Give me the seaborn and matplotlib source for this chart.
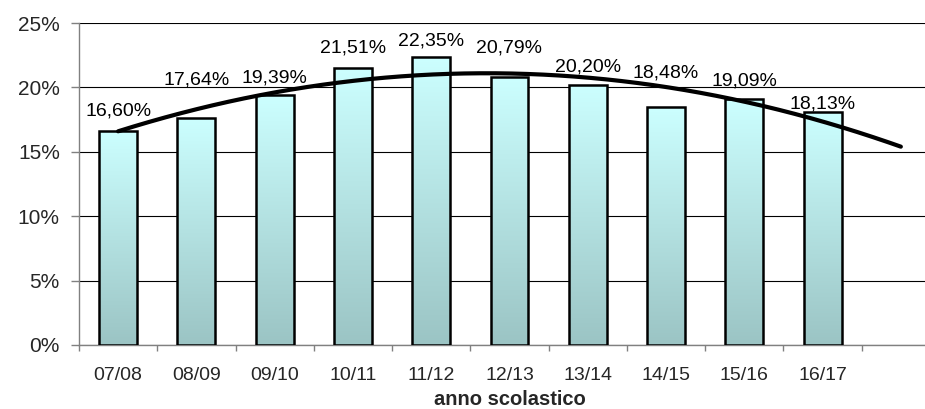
import numpy as np
import pandas as pd
from matplotlib import pyplot as plt
from matplotlib.colors import LinearSegmentedColormap
from matplotlib.ticker import FuncFormatter, FixedLocator
import seaborn as sns

years = ['07/08', '08/09', '09/10', '10/11', '11/12',
         '12/13', '13/14', '14/15', '15/16', '16/17']
rates = [16.60, 17.64, 19.39, 21.51, 22.35, 20.79, 20.20, 18.48, 19.09, 18.13]
# label lift above the bar top (points), moved off the trend line like the original
label_lift = [11.5, 24, 9.5, 11, 8.5, 18, 10, 21, 10, 2]

sns.set_theme(style='white')
plt.rcParams['font.family'] = ['Liberation Sans', 'DejaVu Sans']

df = pd.DataFrame({'anno': years, 'rate': rates})
order = years + ['']

fig = plt.figure(figsize=(9.25, 4.09), dpi=100)
ax = fig.add_axes([0.0854, 0.1565, 0.9308, 0.787])

sns.barplot(data=df, x='anno', y='rate', order=order, ax=ax, width=0.485,
            color='#ccffff', edgecolor='black', linewidth=1.8, zorder=3)

# vertical gradient inside each bar
cmap = LinearSegmentedColormap.from_list('bar', ['#9bc4c4', '#ccffff'])
grad = np.linspace(0, 1, 256).reshape(-1, 1)
for p in ax.patches:
    x0, y0 = p.get_x(), p.get_y()
    w, h = p.get_width(), p.get_height()
    if h <= 0 or np.isnan(h):
        continue
    im = ax.imshow(grad, cmap=cmap, origin='lower', aspect='auto',
                   extent=[x0, x0 + w, y0, y0 + h], zorder=3)
    im.set_clip_path(p)
    p.set_facecolor('none')
    p.set_zorder(4)

# polynomial (2nd order) trend, projected one period forward
xi = np.arange(len(rates))
coef = np.polyfit(xi, rates, 2)
xt = np.linspace(0, len(rates), 200)
sns.lineplot(x=xt, y=np.polyval(coef, xt), ax=ax, color='black', linewidth=3,
             zorder=5)

for i, v in enumerate(rates):
    ax.annotate(f'{v:.2f}%'.replace('.', ','), (i, v), xytext=(0, label_lift[i]),
                textcoords='offset points', ha='center', va='baseline',
                fontsize=14, color='black', zorder=6)

ax.set_xlim(-0.5, len(order) - 0.5)
ax.set_ylim(0, 25)
ax.set_yticks([0, 5, 10, 15, 20, 25])
ax.yaxis.set_major_formatter(FuncFormatter(lambda v, _: f'{v:.0f}%'))
ax.yaxis.grid(True, color='black', linewidth=0.8, zorder=0)
ax.set_axisbelow(True)

ax.set_xticks(range(len(order)))
ax.set_xticklabels(order)
ax.xaxis.set_minor_locator(FixedLocator(np.arange(-0.5, len(order), 1)))
ax.tick_params(axis='x', which='major', length=0, labelsize=14, pad=15.5)
ax.tick_params(axis='x', which='minor', length=4, width=1, color='#808080',
               direction='out', bottom=True)
ax.tick_params(axis='y', length=5.8, width=1, color='#808080', direction='out',
               left=True, labelsize=15, pad=8)

ax.set_xlabel('anno scolastico', fontsize=14.5, fontweight='bold', labelpad=4.5)
ax.set_ylabel('')

for s in ['top', 'right']:
    ax.spines[s].set_visible(False)
for s in ['left', 'bottom']:
    ax.spines[s].set_color('#808080')
    ax.spines[s].set_linewidth(1)

fig.savefig('out.png', dpi=100)
